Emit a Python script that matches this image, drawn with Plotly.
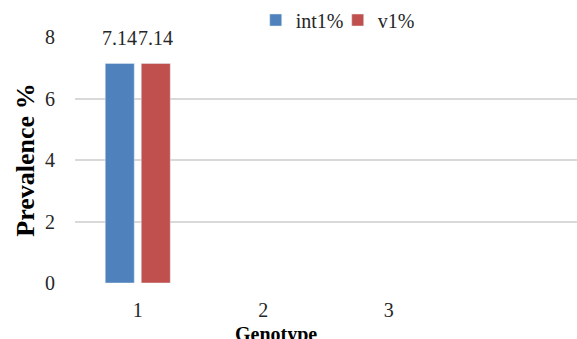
import plotly.graph_objects as go

categories = ["1", "2", "3", " "]
int1_pct = [7.14, None, None, None]
v1_pct = [7.14, None, None, None]
y_ticks = [0, 2, 4, 6, 8]

FONT = "Liberation Serif, Times New Roman, serif"
series = [("int1%", int1_pct, "#4F81BD", -18), ("v1%", v1_pct, "#C0504D", 18)]

fig = go.Figure()
annotations = []
for name, vals, color, dx in series:
    fig.add_trace(go.Bar(name=name, x=categories, y=vals, marker_color=color))
    for i, v in enumerate(vals):
        if v is not None:
            annotations.append(dict(x=i, y=v, text=f"{v:.2f}", showarrow=False,
                                    xshift=dx, yshift=12, yanchor="bottom",
                                    xanchor="center",
                                    font=dict(size=20, color="#262626")))

annotations.append(dict(text="<b>Genotype</b>", xref="paper", yref="paper",
                        x=0.40, y=-0.21, xanchor="center", yanchor="middle",
                        showarrow=False, font=dict(size=20, color="black")))

fig.update_layout(
    width=577, height=339,
    margin=dict(l=75, r=0, t=37, b=56, autoexpand=False),
    paper_bgcolor="white", plot_bgcolor="white",
    font=dict(family=FONT, size=20, color="#262626"),
    barmode="group", bargap=0.426, bargroupgap=0.194,
    showlegend=True,
    legend=dict(orientation="h", x=0.36, xanchor="left", y=1.069, yanchor="middle",
                font=dict(size=20), bgcolor="rgba(0,0,0,0)", itemwidth=30,
                entrywidth=37, tracegroupgap=0),
    annotations=annotations,
)
fig.update_xaxes(type="category", categoryorder="array", categoryarray=categories,
                 range=[-0.5, 3.5], showgrid=False, zeroline=False, showline=False,
                 ticks="outside", ticklen=9, tickcolor="rgba(0,0,0,0)",
                 tickfont=dict(size=20), automargin=False)
fig.update_yaxes(range=[0, 8], tickvals=y_ticks, showgrid=True, gridcolor="#D9D9D9",
                 gridwidth=2, zeroline=False, showline=False,
                 ticks="outside", ticklen=15, tickcolor="rgba(0,0,0,0)",
                 tickfont=dict(size=20), automargin=False,
                 title=dict(text="<b>Prevalence %</b>", font=dict(size=26, color="black"),
                            standoff=2))

fig.write_html("out.html", config={"displayModeBar": False},
               post_script="document.body.style.margin='0';document.body.style.overflow='hidden';")
